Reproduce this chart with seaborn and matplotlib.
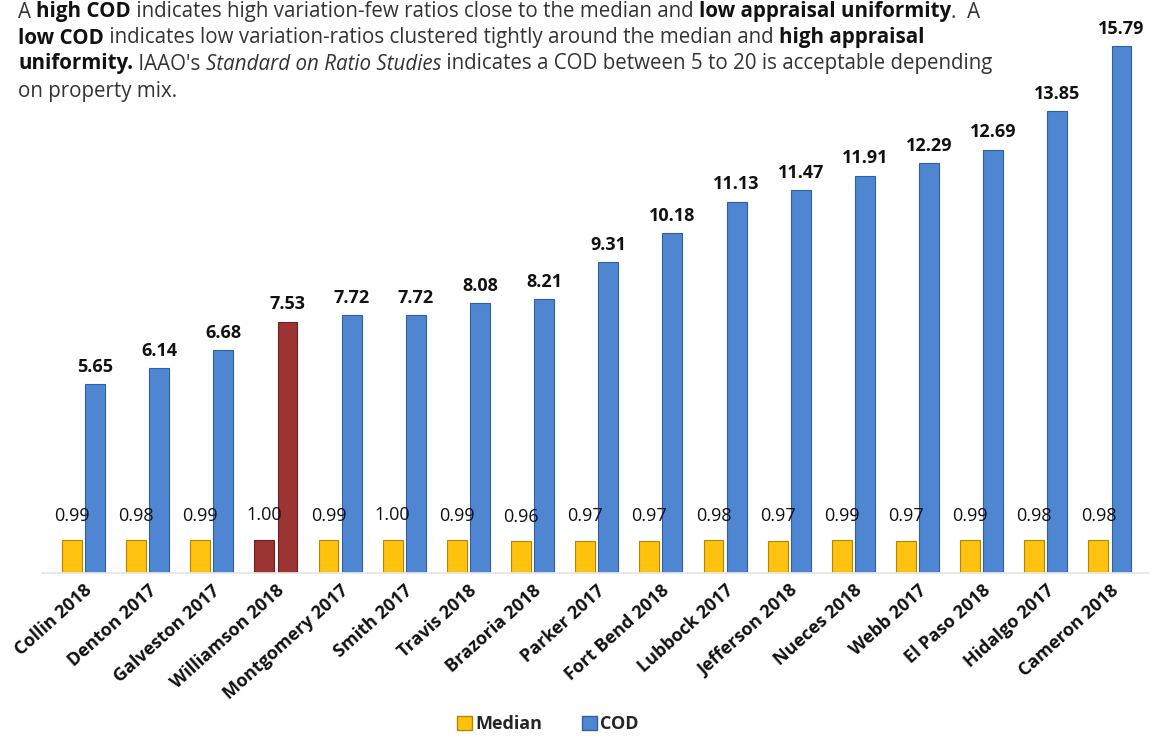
import numpy as np
import pandas as pd
import matplotlib
matplotlib.use("Agg")
import matplotlib.pyplot as plt
import matplotlib.patches as mpatches
import seaborn as sns

# Data
counties = ["Collin 2018", "Denton 2017", "Galveston 2017", "Williamson 2018",
            "Montgomery 2017", "Smith 2017", "Travis 2018", "Brazoria 2018",
            "Parker 2017", "Fort Bend 2018", "Lubbock 2017", "Jefferson 2018",
            "Nueces 2018", "Webb 2017", "El Paso 2018", "Hidalgo 2017", "Cameron 2018"]
median_vals = [0.99, 0.98, 0.99, 1.00, 0.99, 1.00, 0.99, 0.96, 0.97,
               0.97, 0.98, 0.97, 0.99, 0.97, 0.99, 0.98, 0.98]
cod_vals = [5.65, 6.14, 6.68, 7.53, 7.72, 7.72, 8.08, 8.21, 9.31,
            10.18, 11.13, 11.47, 11.91, 12.29, 12.69, 13.85, 15.79]
highlight = "Williamson 2018"

GOLD, GOLD_EDGE = "#FFC20E", "#B38600"
BLUE, BLUE_EDGE = "#4F86D2", "#2F5F9E"
RED, RED_EDGE = "#9B3432", "#6A2220"

df = pd.DataFrame({
    "county": counties * 2,
    "value": median_vals + cod_vals,
    "measure": ["Median"] * len(counties) + ["COD"] * len(counties),
})

sns.set_theme(style="white")
plt.rcParams["font.family"] = ["Open Sans", "DejaVu Sans"]

fig = plt.figure(figsize=(11.54, 7.39), dpi=100)
ax = fig.add_axes([0.0362, 0.2246, 0.959, 0.745])

sns.barplot(data=df, x="county", y="value", hue="measure",
            palette={"Median": GOLD, "COD": BLUE}, width=0.72, gap=0.14,
            saturation=1, legend=False, ax=ax)

hi_idx = counties.index(highlight)
for cont, meas in zip(ax.containers, ["Median", "COD"]):
    for i, bar in enumerate(cont):
        if i == hi_idx:
            bar.set_facecolor(RED)
            bar.set_edgecolor(RED_EDGE)
        else:
            bar.set_edgecolor(GOLD_EDGE if meas == "Median" else BLUE_EDGE)
        bar.set_linewidth(0.8)
    if meas == "Median":
        ax.bar_label(cont, fmt="%.2f", padding=11, fontsize=13, color="#111111")
    else:
        ax.bar_label(cont, fmt="%.2f", padding=6, fontsize=13,
                     fontweight="bold", color="#111111")

ax.set_xlim(-0.65, 16.6)
ax.set_ylim(0, 16.5)
ax.set_xlabel("")
ax.set_ylabel("")
ax.set_yticks([])
for s in ["top", "right", "left"]:
    ax.spines[s].set_visible(False)
ax.spines["bottom"].set_color("#E6E6E6")
ax.tick_params(axis="x", length=0, pad=6)
ax.set_xticks(range(len(counties)))
ax.set_xticklabels(counties, rotation=42, ha="right", rotation_mode="anchor",
                   fontsize=13, fontweight="bold", color="#111111")

handles = [mpatches.Patch(facecolor=GOLD, edgecolor=GOLD_EDGE, label="Median"),
           mpatches.Patch(facecolor=BLUE, edgecolor=BLUE_EDGE, label="COD")]
leg = fig.legend(handles=handles, loc="center", bbox_to_anchor=(0.475, 0.02),
                 ncol=2, frameon=False, handlelength=0.8, handleheight=0.8,
                 handletextpad=0.2, columnspacing=2.2,
                 prop={"weight": "bold", "size": 13})

# Header note with mixed bold / italic runs
lines = [
    [("A ", "normal", "normal"), ("high COD", "bold", "normal"),
     (" indicates high variation-few ratios close to the median and ", "normal", "normal"),
     ("low appraisal uniformity", "bold", "normal"), (".  A", "normal", "normal")],
    [("low COD", "bold", "normal"),
     (" indicates low variation-ratios clustered tightly around the median and ", "normal", "normal"),
     ("high appraisal", "bold", "normal")],
    [("uniformity.", "bold", "normal"), (" IAAO's ", "normal", "normal"),
     ("Standard on Ratio Studies", "normal", "italic"),
     (" indicates a COD between 5 to 20 is acceptable depending", "normal", "normal")],
    [("on property mix.", "normal", "normal")],
]
renderer = fig.canvas.get_renderer()
W, H = fig.get_size_inches() * fig.dpi
y_px = [12, 38, 64, 91]
for runs, yp in zip(lines, y_px):
    x_px = 18
    for txt, weight, style in runs:
        t = fig.text(x_px / W, 1 - yp / H, txt, fontsize=14.8, fontweight=weight,
                     fontstyle=style, color="#111111" if weight == "bold" else "#333333",
                     va="center", ha="left")
        x_px += t.get_window_extent(renderer).width

fig.savefig("out.png", dpi=100)
